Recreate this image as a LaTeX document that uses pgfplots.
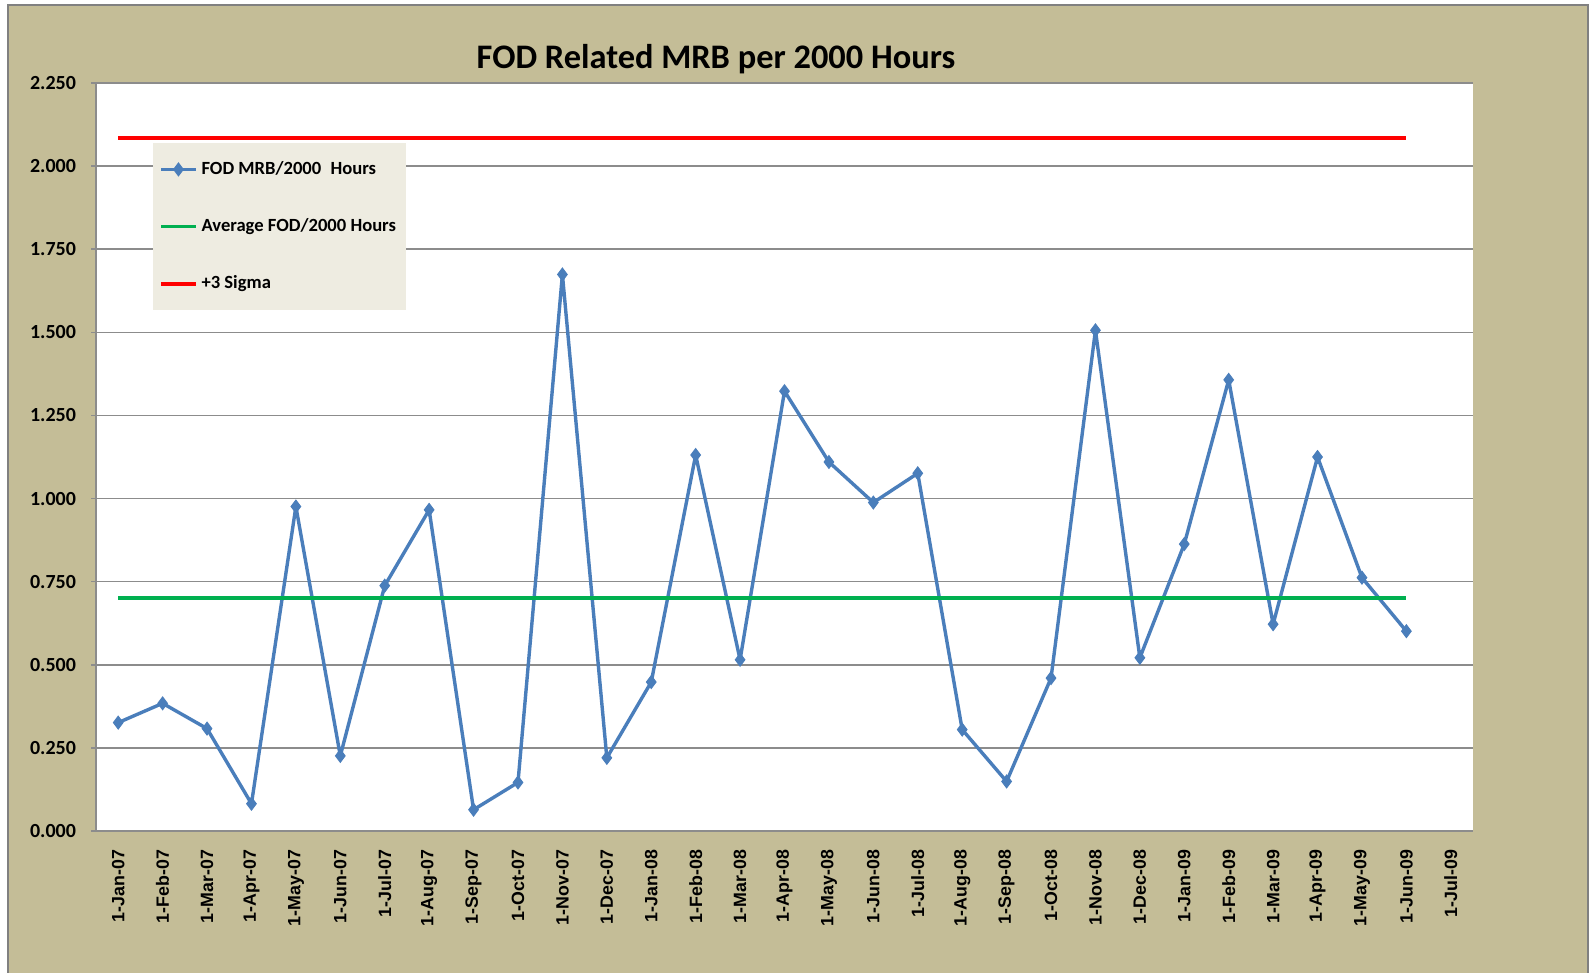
\documentclass[border=0pt]{standalone}
\usepackage{pgfplots}
\pgfplotsset{compat=1.18}
\usepackage{fontspec}
\setmainfont{Carlito}
\newfontfamily\arialfont{Liberation Sans}
\definecolor{tanbg}{HTML}{C4BD97}
\definecolor{legbg}{HTML}{EEECE1}
\definecolor{serblue}{HTML}{4A7EBB}
\definecolor{gridgray}{HTML}{8C8C8C}
\definecolor{avggreen}{HTML}{00B050}
\begin{document}
\begin{tikzpicture}
\useasboundingbox (0,0) rectangle (794.5pt,486.5pt);
\fill[white] (0,0) rectangle (794.5pt,486.5pt);
\fill[tanbg] (4pt,0) rectangle (794pt,484pt);
\draw[gray, line width=0.8pt] (4pt,0) -- (4pt,484pt) -- (794pt,484pt) -- (794pt,0);
\node[font=\fontsize{17.2}{20}\selectfont\bfseries] at (358pt,457pt) {FOD Related MRB per 2000 Hours};
\begin{axis}[
  at={(48pt,71pt)}, anchor=south west,
  width=688.5pt, height=374pt, scale only axis,
  xmin=-0.5, xmax=30.5, ymin=0, ymax=2.25,
  enlargelimits=false,
  axis background/.style={fill=white},
  axis x line*=bottom, axis y line*=left,
  axis line style={draw=gridgray, line width=0.9pt, -},
  ymajorgrids, major grid style={draw=gridgray, line width=0.8pt},
  ytick={0,0.25,...,2.25},
  xtick={0,...,30},
  minor xtick={-0.5,0.5,...,30.5},
  tick align=outside,
  xtick style={draw=none},
  ytick style={draw=gridgray, line width=0.8pt},
  major tick length=2.5pt,
  minor tick length=3pt,
  minor tick style={draw=gridgray, line width=0.8pt},
  xticklabels={1-Jan-07,1-Feb-07,1-Mar-07,1-Apr-07,1-May-07,1-Jun-07,1-Jul-07,1-Aug-07,1-Sep-07,1-Oct-07,1-Nov-07,1-Dec-07,1-Jan-08,1-Feb-08,1-Mar-08,1-Apr-08,1-May-08,1-Jun-08,1-Jul-08,1-Aug-08,1-Sep-08,1-Oct-08,1-Nov-08,1-Dec-08,1-Jan-09,1-Feb-09,1-Mar-09,1-Apr-09,1-May-09,1-Jun-09,1-Jul-09},
  xticklabel style={yshift=-3.5pt, rotate=90, anchor=east, font=\arialfont\bfseries\fontsize{8.9}{10}\selectfont},
  yticklabel style={xshift=-4pt, font=\bfseries\fontsize{10}{12}\selectfont},
  /pgf/number format/assume math mode=true,
  yticklabel={\pgfmathprintnumber[fixed, fixed zerofill, precision=3]{\tick}},
  legend style={at={(rel axis cs:0.0414,0.9198)}, anchor=north west, fill=legbg, draw=none,
    inner xsep=3pt, inner ysep=7pt, row sep=16.5pt, font=\bfseries\fontsize{9.3}{11}\selectfont},
  legend cell align=left,
]
\addplot[serblue, line width=1.7pt, line join=round, mark=diamond*, mark size=3.2pt, mark options={fill=serblue, draw=serblue, line width=0.5pt, line join=miter}] coordinates {
(0,0.326) (1,0.384) (2,0.308) (3,0.082) (4,0.976) (5,0.226) (6,0.738) (7,0.966) (8,0.064) (9,0.146)
(10,1.674) (11,0.220) (12,0.448) (13,1.131) (14,0.515) (15,1.323) (16,1.110) (17,0.988) (18,1.076) (19,0.305)
(20,0.149) (21,0.460) (22,1.506) (23,0.521) (24,0.863) (25,1.357) (26,0.622) (27,1.125) (28,0.762) (29,0.601)
};
\addlegendentry{FOD MRB/2000\enspace Hours}
\addplot[avggreen, line width=1.8pt] coordinates {(0,0.701) (29,0.701)};
\addlegendentry{Average FOD/2000 Hours}
\addplot[red, line width=2pt] coordinates {(0,2.085) (29,2.085)};
\addlegendentry{+3 Sigma}
\end{axis}
\end{tikzpicture}
\end{document}
